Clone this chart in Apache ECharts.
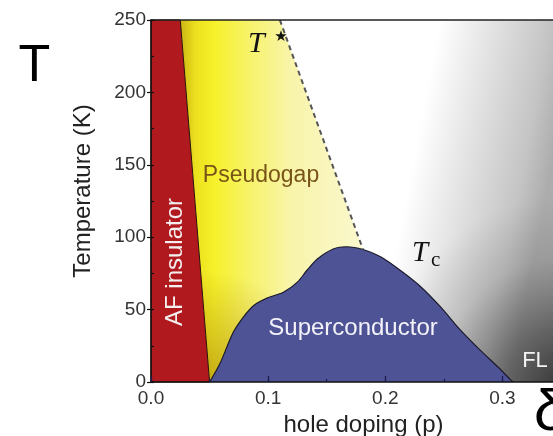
<!DOCTYPE html>
<html>
<head>
<meta charset="utf-8">
<script src="https://cdn.jsdelivr.net/npm/echarts@6/dist/echarts.min.js"></script>
<style>
  html, body { margin: 0; padding: 0; background: #fff; }
  #chart { width: 553px; height: 436px; }
</style>
</head>
<body>
<div id="chart"></div>
<script>
// Cuprate phase diagram: temperature (K) against hole doping p.

// Axis ranges and tick labels
const dopingMax = 0.35;
const tempMax = 250;
const dopingTickLabels = ['0.0', '0.1', '0.2', '0.3'];
const tempTickLabels = ['0', '50', '100', '150', '200', '250'];

// Antiferromagnetic insulator region (corners, p / T)
const afP = [0, 0, 0.025, 0.05];
const afT = [0, 250, 250, 0];

// Pseudogap region, bounded by the AF edge, the axis and the T* line
const pseudogapP = [0.025, 0.05, 0.181, 0.181, 0.110];
const pseudogapT = [250, 0, 0, 91.5, 250];

// T* crossover line
const tStarP = [0.110, 0.181];
const tStarT = [250, 91.5];

// Superconducting dome Tc(p)
const domeP = [0.050, 0.059, 0.070, 0.079, 0.088, 0.099, 0.113, 0.125, 0.133, 0.142,
               0.156, 0.167, 0.181, 0.196, 0.213, 0.230, 0.247, 0.264, 0.281, 0.296, 0.307, 0.309];
const domeT = [0, 13, 34, 45, 53, 58, 62, 69, 77, 85,
               92, 93.4, 91.5, 86.5, 77, 66, 52, 36, 22, 10.5, 1.5, 0];

// Normal-state background (whole plot)
const normalP = [0, dopingMax, dopingMax, 0];
const normalT = [0, 0, tempMax, tempMax];

const G = echarts.graphic;

function regionSeries(name, ps, ts, z, styleFn) {
  return {
    type: 'custom',
    name: name,
    z: z,
    silent: true,
    xAxisIndex: 0,
    yAxisIndex: 0,
    data: [[ps[0], ts[0]]],
    renderItem: function (params, api) {
      const pts = ps.map(function (p, i) { return api.coord([p, ts[i]]); });
      return { type: 'polygon', shape: { points: pts }, style: styleFn() };
    }
  };
}

const chart = echarts.init(document.getElementById('chart'), null, { renderer: 'canvas' });

const sans = '"Liberation Sans", Arial, sans-serif';
const serif = '"Liberation Serif", "Times New Roman", serif';

chart.setOption({
  animation: false,
  backgroundColor: '#fff',
  grid: { left: 151, top: 20, width: 410, height: 362, containLabel: false, outerBoundsMode: 'none' },
  xAxis: [
    {
      type: 'value', min: 0, max: dopingMax, interval: 0.1, z: 10,
      name: 'hole doping (p)', nameLocation: 'middle', nameGap: 30,
      nameTextStyle: { fontFamily: sans, fontSize: 24, color: '#222', padding: [0, 0, 0, 15] },
      axisLine: { show: true, onZero: false, lineStyle: { color: '#111', width: 1.5 } },
      axisTick: { show: true, inside: true, length: 6, lineStyle: { color: '#1b1b45', width: 1.2 } },
      axisLabel: {
        show: true, margin: 7, fontFamily: sans, fontSize: 19, color: '#333',
        showMaxLabel: false,
        formatter: function (v) {
          const i = Math.round(v * 10);
          return Math.abs(v * 10 - i) < 1e-6 && dopingTickLabels[i] !== undefined ? dopingTickLabels[i] : '';
        }
      },
      splitLine: { show: false }
    },
    {
      // half-step ticks along the bottom axis
      type: 'value', min: 0, max: dopingMax, interval: 0.05, z: 10, position: 'bottom',
      axisLine: { show: false },
      axisTick: { show: true, inside: true, length: 3, lineStyle: { color: '#1b1b45', width: 1.2 } },
      axisLabel: { show: false },
      splitLine: { show: false }
    },
    {
      // frame line along the top
      type: 'value', min: 0, max: dopingMax, z: 10, position: 'top',
      axisLine: { show: true, onZero: false, lineStyle: { color: '#222', width: 1.5 } },
      axisTick: { show: false },
      axisLabel: { show: false },
      splitLine: { show: false }
    }
  ],
  yAxis: [
    {
      type: 'value', min: 0, max: tempMax, interval: 50, z: 10,
      name: 'Temperature (K)', nameLocation: 'middle', nameGap: 56,
      nameTextStyle: { fontFamily: sans, fontSize: 24, color: '#222', padding: [0, 0, 0, 20] },
      axisLine: { show: true, onZero: false, lineStyle: { color: '#111', width: 1.5 } },
      axisTick: { show: true, inside: false, length: 4, lineStyle: { color: '#111', width: 1.2 } },
      axisLabel: {
        show: true, margin: 5, fontFamily: sans, fontSize: 19, color: '#333',
        formatter: function (v) { return tempTickLabels[Math.round(v / 50)]; }
      },
      splitLine: { show: false }
    },
    {
      // inner ticks every 25 K
      type: 'value', min: 0, max: tempMax, interval: 25, z: 10, position: 'left',
      axisLine: { show: false },
      axisTick: { show: true, inside: true, length: 3, lineStyle: { color: '#111', width: 1.2 } },
      axisLabel: { show: false },
      splitLine: { show: false }
    }
  ],
  series: [
    regionSeries('Normal state', normalP, normalT, 1, function () {
      return {
        fill: new G.LinearGradient(440, 20, 575, 46, [
          { offset: 0, color: '#ffffff' },
          { offset: 0.8, color: '#c4c4c4' },
          { offset: 1, color: '#acacac' }
        ], true)
      };
    }),
    regionSeries('Fermi liquid shade', normalP, normalT, 2, function () {
      return {
        fill: new G.RadialGradient(575, 395, 200, [
          { offset: 0, color: 'rgba(25,25,25,0.9)' },
          { offset: 0.35, color: 'rgba(40,40,40,0.55)' },
          { offset: 0.7, color: 'rgba(60,60,60,0.15)' },
          { offset: 1, color: 'rgba(60,60,60,0)' }
        ], true)
      };
    }),
    regionSeries('Pseudogap', pseudogapP, pseudogapT, 3, function () {
      return {
        fill: new G.LinearGradient(180, 0, 370, 0, [
          { offset: 0, color: '#c9b313' },
          { offset: 0.08, color: '#ece01e' },
          { offset: 0.18, color: '#f6f12a' },
          { offset: 0.37, color: '#f7f36c' },
          { offset: 0.58, color: '#f8f4aa' },
          { offset: 1, color: '#fbf8d2' }
        ], true)
      };
    }),
    regionSeries('Pseudogap shade', pseudogapP, pseudogapT, 4, function () {
      return {
        fill: new G.RadialGradient(205, 390, 120, [
          { offset: 0, color: 'rgba(150,105,0,0.55)' },
          { offset: 1, color: 'rgba(150,105,0,0)' }
        ], true)
      };
    }),
    regionSeries('AF insulator', afP, afT, 5, function () {
      return { fill: '#b0191e', stroke: '#2a1208', lineWidth: 1 };
    }),
    {
      type: 'line', name: 'Tc', z: 6, silent: true,
      xAxisIndex: 0, yAxisIndex: 0,
      data: domeP.map(function (p, i) { return [p, domeT[i]]; }),
      smooth: 0.3,
      showSymbol: false, symbol: 'none',
      lineStyle: { color: '#1a1a2a', width: 1.2 },
      areaStyle: { color: '#4e5396', opacity: 1, origin: 'start' }
    },
    {
      type: 'line', name: 'T*', z: 7, silent: true,
      xAxisIndex: 0, yAxisIndex: 0,
      data: tStarP.map(function (p, i) { return [p, tStarT[i]]; }),
      showSymbol: false, symbol: 'none',
      lineStyle: { color: '#555', width: 2, type: [5, 4] }
    }
  ],
  graphic: [
    { type: 'text', x: 34.5, y: 67, z: 100, style: { text: 'T', fontFamily: sans, fontSize: 52, fill: '#000', align: 'center', verticalAlign: 'middle' } },
    { type: 'text', x: 534, y: 414, z: 100, style: { text: 'δ', fontFamily: sans, fontSize: 58, fill: '#000', align: 'left', verticalAlign: 'middle' } },
    { type: 'text', x: 248, y: 44, z: 100, style: { text: 'T', fontFamily: serif, fontStyle: 'italic', fontSize: 30, fill: '#111', align: 'left', verticalAlign: 'middle' } },
    { type: 'text', x: 281, y: 37, z: 100, style: { text: '★', fontFamily: '"DejaVu Sans"', fontSize: 15, fill: '#111', align: 'center', verticalAlign: 'middle' } },
    { type: 'text', x: 412, y: 253, z: 100, style: { text: 'T', fontFamily: serif, fontStyle: 'italic', fontSize: 29, fill: '#111', align: 'left', verticalAlign: 'middle' } },
    { type: 'text', x: 431, y: 260, z: 100, style: { text: 'c', fontFamily: serif, fontSize: 21, fill: '#111', align: 'left', verticalAlign: 'middle' } },
    { type: 'text', x: 261, y: 176, z: 100, style: { text: 'Pseudogap', fontFamily: sans, fontSize: 23, fill: '#795418', align: 'center', verticalAlign: 'middle' } },
    { type: 'text', x: 175, y: 262, rotation: Math.PI / 2, z: 100, style: { text: 'AF insulator', fontFamily: sans, fontSize: 24, fill: '#f4eeee', align: 'center', verticalAlign: 'middle' } },
    { type: 'text', x: 353, y: 328, z: 100, style: { text: 'Superconductor', fontFamily: sans, fontSize: 24, fill: '#f2f2f8', align: 'center', verticalAlign: 'middle' } },
    { type: 'text', x: 535, y: 361, z: 100, style: { text: 'FL', fontFamily: sans, fontSize: 22, fill: '#f4f4f4', align: 'center', verticalAlign: 'middle' } }
  ]
});
</script>
</body>
</html>
